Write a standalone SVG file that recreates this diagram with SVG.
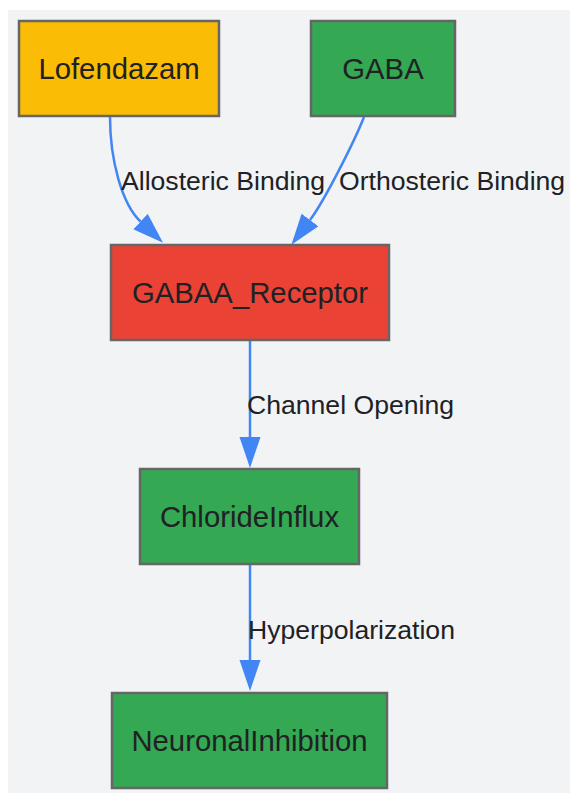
<svg xmlns="http://www.w3.org/2000/svg" width="570" height="793" viewBox="0 0 570 793">
<style>
.node rect{stroke:#666666;stroke-width:2.5}
.node text{font-family:"Liberation Sans",Arial,sans-serif;font-size:29.3px;fill:#202124;text-anchor:middle}
.edge{fill:none;stroke:#4285F4;stroke-width:2.5}
.lbl{font-family:"Liberation Sans",Arial,sans-serif;font-size:26.6px;fill:#202124}
</style>
<defs>
<marker id="arr" markerUnits="userSpaceOnUse" markerWidth="32" markerHeight="22" refX="0" refY="10.5" orient="auto" viewBox="0 0 32 21">
<path d="M0,0 L31,10.5 L0,21 z" fill="#4285F4"/>
</marker>
</defs>
<rect x="8" y="10" width="562" height="783" fill="#F1F3F5"/>
<g id="connectors">
<path class="edge" d="M110,117 C110,160 122,204 140.5,221.5" marker-end="url(#arr)"/>
<path class="edge" d="M364,117 C355,140 325,200 310,220" marker-end="url(#arr)"/>
<path class="edge" d="M250,341 L250,437" marker-end="url(#arr)"/>
<path class="edge" d="M250,565 L250,660" marker-end="url(#arr)"/>
<text class="lbl" x="121" y="190">Allosteric Binding</text>
<text class="lbl" x="339" y="190">Orthosteric Binding</text>
<text class="lbl" x="247" y="414">Channel Opening</text>
<text class="lbl" x="248" y="639">Hyperpolarization</text>
</g>
<g id="Lofendazam" class="node"><rect x="19" y="21" width="200" height="95" fill="#FBBC05"/><text x="119" y="79">Lofendazam</text></g>
<g id="GABA" class="node"><rect x="311" y="21" width="144" height="95" fill="#34A853"/><text x="383" y="79">GABA</text></g>
<g id="GABAA_Receptor" class="node"><rect x="111" y="245" width="278" height="95" fill="#EA4335"/><text x="250" y="303">GABAA_Receptor</text></g>
<g id="ChlorideInflux" class="node"><rect x="140" y="469" width="219" height="95" fill="#34A853"/><text x="249.5" y="527">ChlorideInflux</text></g>
<g id="NeuronalInhibition" class="node"><rect x="112" y="693" width="275" height="95" fill="#34A853"/><text x="249.5" y="751">NeuronalInhibition</text></g>
</svg>
